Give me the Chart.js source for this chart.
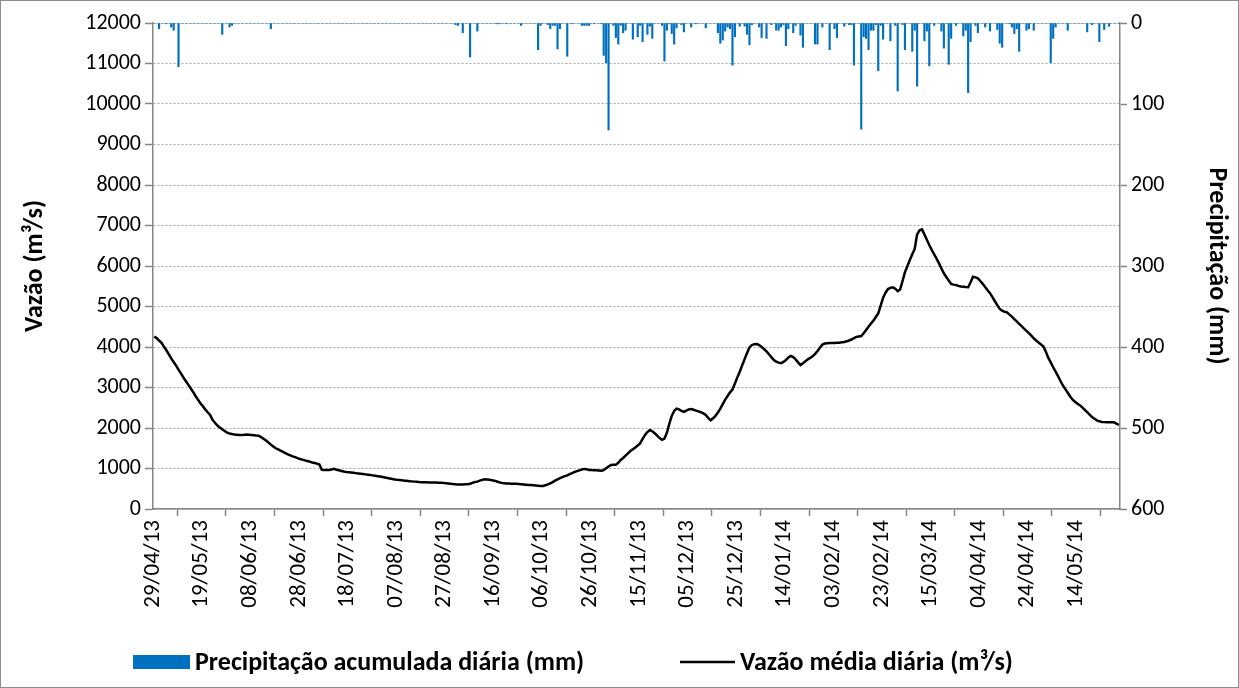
<!DOCTYPE html>
<html>
<head>
<meta charset="utf-8">
<title>Vazão média e precipitação diária</title>
<script src="https://cdn.jsdelivr.net/npm/chart.js"></script>
<style>
  body { margin: 0; background: #fff; }
  canvas { display: block; }
</style>
</head>
<body>
<canvas id="vazaoChart" width="1239" height="688"></canvas>
<script>
// tick labels on the date axis, one every 20 days starting 29/04/13
const xTickLabels = ['29/04/13', '19/05/13', '08/06/13', '28/06/13', '18/07/13', '07/08/13',
  '27/08/13', '16/09/13', '06/10/13', '26/10/13', '15/11/13', '05/12/13', '25/12/13',
  '14/01/14', '03/02/14', '23/02/14', '15/03/14', '04/04/14', '24/04/14', '14/05/14'];

// daily mean discharge (m³/s), 29/04/13 .. 31/05/14
const vazao = [
  4260, 4220, 4160, 4105, 4010, 3920, 3820, 3720, 3630, 3540,
  3440, 3350, 3250, 3160, 3070, 2980, 2890, 2790, 2700, 2610,
  2540, 2460, 2390, 2320, 2200, 2130, 2060, 2015, 1970, 1925,
  1885, 1865, 1850, 1840, 1835, 1830, 1828, 1832, 1838, 1835,
  1830, 1822, 1815, 1810, 1775, 1735, 1690, 1640, 1590, 1545,
  1500, 1470, 1440, 1410, 1380, 1350, 1325, 1300, 1280, 1255,
  1235, 1220, 1200, 1185, 1170, 1150, 1135, 1120, 1100, 965,
  960, 965, 965, 975, 990, 970, 955, 940, 925, 915,
  908, 900, 893, 886, 878, 870, 862, 855, 848, 840,
  830, 820, 810, 800, 790, 778, 766, 754, 742, 730,
  720, 715, 708, 700, 695, 688, 682, 676, 670, 665,
  662, 660, 658, 656, 655, 653, 652, 651, 650, 645,
  638, 630, 622, 615, 610, 608, 607, 608, 610, 612,
  625, 645, 665, 675, 700, 720, 733, 730, 720, 710,
  700, 680, 660, 645, 635, 630, 628, 626, 625, 622,
  618, 612, 606, 600, 595, 590, 585, 580, 575, 570,
  568, 585, 610, 635, 665, 700, 733, 760, 785, 810,
  832, 860, 888, 915, 935, 955, 975, 990, 980, 965,
  960, 958, 955, 950, 945, 960, 1005, 1050, 1085, 1092,
  1095, 1140, 1210, 1260, 1320, 1375, 1430, 1475, 1520, 1570,
  1620, 1730, 1830, 1900, 1950, 1920, 1870, 1810, 1750, 1710,
  1740, 1880, 2100, 2300, 2420, 2480, 2460, 2420, 2400, 2430,
  2460, 2470, 2450, 2430, 2410, 2390, 2360, 2320, 2250, 2190,
  2240, 2300, 2380, 2480, 2590, 2700, 2790, 2880, 2950, 3100,
  3250, 3390, 3550, 3700, 3850, 3990, 4050, 4070, 4075, 4050,
  4000, 3950, 3890, 3820, 3750, 3680, 3640, 3615, 3600, 3630,
  3680, 3740, 3780, 3750, 3695, 3620, 3555, 3600, 3650, 3695,
  3730, 3770, 3830, 3900, 3980, 4060, 4085, 4095, 4100, 4100,
  4100, 4102, 4105, 4115, 4125, 4140, 4160, 4185, 4220, 4250,
  4260, 4270, 4340, 4420, 4500, 4580, 4650, 4740, 4830, 5020,
  5220, 5340, 5430, 5460, 5475, 5440, 5380, 5420, 5630, 5850,
  6000, 6150, 6290, 6420, 6780, 6880, 6905, 6780, 6650, 6520,
  6400, 6290, 6180, 6065, 5940, 5820, 5730, 5640, 5555, 5540,
  5530, 5510, 5495, 5488, 5480, 5475, 5600, 5735, 5720, 5695,
  5630, 5560, 5480, 5400, 5330, 5230, 5130, 5035, 4940, 4900,
  4870, 4855, 4800, 4750, 4690, 4630, 4570, 4515, 4455, 4400,
  4340, 4280, 4215, 4160, 4110, 4060, 4010, 3880, 3730, 3620,
  3500, 3390, 3280, 3160, 3050, 2960, 2870, 2780, 2700, 2650,
  2600, 2560, 2510, 2450, 2390, 2330, 2270, 2230, 2190, 2165,
  2150, 2145, 2142, 2140, 2140, 2140, 2110, 2075
];

// daily accumulated rainfall (mm), same days
const precipitacao = [
  0, 0, 7, 0, 0, 1, 0, 5, 9, 0,
  54, 0, 0, 0, 0, 0, 0, 0, 0, 0,
  0, 0, 0, 0, 0, 0, 0, 0, 14, 0,
  0, 5, 3, 0, 0, 0, 0, 0, 0, 0,
  0, 0, 0, 0, 0, 0, 0, 0, 7, 0,
  0, 0, 0, 0, 0, 0, 0, 0, 0, 0,
  0, 0, 0, 0, 0, 0, 0, 0, 0, 0,
  0, 0, 0, 0, 0, 0, 0, 0, 0, 0,
  0, 0, 0, 0, 0, 0, 0, 0, 0, 0,
  0, 0, 0, 0, 0, 0, 0, 0, 0, 0,
  0, 0, 0, 0, 0, 0, 0, 0, 0, 0,
  0, 0, 0, 0, 0, 0, 0, 0, 0, 0,
  0, 0, 0, 0, 2, 3, 0, 12, 0, 0,
  42, 0, 0, 10, 0, 0, 0, 0, 0, 0,
  0, 1, 1, 0, 0, 1, 0, 0, 0, 0,
  0, 3, 0, 0, 0, 0, 0, 0, 33, 3,
  0, 0, 2, 7, 3, 3, 32, 7, 0, 0,
  41, 0, 1, 0, 0, 0, 3, 3, 3, 3,
  0, 1, 0, 0, 1, 40, 49, 132, 0, 3,
  18, 26, 3, 12, 9, 0, 0, 20, 0, 17,
  3, 23, 0, 14, 4, 19, 0, 0, 0, 3,
  47, 9, 1, 13, 26, 6, 0, 2, 11, 0,
  0, 5, 0, 1, 0, 0, 0, 6, 0, 0,
  0, 0, 12, 25, 21, 10, 5, 7, 52, 17,
  0, 4, 0, 4, 14, 27, 2, 0, 0, 5,
  18, 0, 19, 0, 2, 0, 9, 9, 5, 2,
  28, 7, 0, 12, 3, 0, 15, 30, 0, 0,
  0, 0, 26, 26, 0, 5, 0, 0, 33, 0,
  7, 18, 0, 0, 4, 0, 2, 2, 52, 0,
  0, 131, 17, 19, 33, 9, 9, 2, 59, 3,
  20, 0, 0, 22, 0, 3, 84, 0, 2, 33,
  0, 0, 35, 9, 78, 0, 0, 22, 10, 53,
  0, 3, 0, 0, 10, 31, 0, 51, 19, 0,
  3, 0, 0, 16, 9, 86, 23, 0, 3, 12,
  0, 0, 5, 0, 10, 0, 0, 8, 25, 30,
  0, 0, 1, 5, 13, 7, 35, 0, 0, 9,
  7, 0, 9, 0, 0, 0, 0, 0, 0, 49,
  19, 5, 0, 0, 0, 0, 9, 0, 0, 0,
  0, 0, 0, 0, 11, 0, 2, 0, 0, 23,
  0, 8, 0, 4, 0, 0, 0, 0
];

const FONT = "Carlito, Calibri, Lato, 'Open Sans', sans-serif";
const AXIS_GREY = '#868686';
const BLUE = '#0070c0';

// each day sits in the middle of its one-day slot on the date axis
const vazaoPts = vazao.map((v, i) => ({ x: i + 0.5, y: v }));
const chuvaPts = precipitacao.map((v, i) => ({ x: i + 0.5, y: v }));

// legend drawn under the axis, plus the thin frame around the chart
const legendBox = {
  id: 'legendBox',
  afterDraw(chart) {
    const ctx = chart.ctx;
    ctx.save();
    ctx.font = 'bold 26px ' + FONT;
    ctx.textBaseline = 'middle';
    ctx.fillStyle = BLUE;
    ctx.fillRect(133, 655, 57, 14);
    ctx.fillStyle = '#000';
    ctx.fillText(chart.data.datasets[1].label, 195, 663);
    ctx.strokeStyle = '#000';
    ctx.lineWidth = 2.5;
    ctx.beginPath();
    ctx.moveTo(680, 662);
    ctx.lineTo(735, 662);
    ctx.stroke();
    ctx.fillText(chart.data.datasets[0].label, 740, 663);
    ctx.strokeStyle = '#8c8c8c';
    ctx.lineWidth = 1;
    ctx.strokeRect(0.5, 0.5, chart.width - 1, chart.height - 1);
    ctx.restore();
  }
};

const ctx = document.getElementById('vazaoChart').getContext('2d');
const vazaoChart = new Chart(ctx, {
  data: {
    datasets: [{
      type: 'line',
      label: 'Vazão média diária (m³/s)',
      data: vazaoPts,
      yAxisID: 'y',
      borderColor: '#000',
      borderWidth: 2.5,
      pointRadius: 0,
      tension: 0,
      fill: false
    }, {
      type: 'bar',
      label: 'Precipitação acumulada diária (mm)',
      data: chuvaPts,
      yAxisID: 'y2',
      backgroundColor: BLUE,
      borderWidth: 0,
      barThickness: 1.5
    }]
  },
  options: {
    responsive: false,
    animation: false,
    layout: { padding: { top: 23, right: 0, bottom: 60, left: 0 } },
    plugins: {
      legend: { display: false },
      tooltip: { enabled: false }
    },
    scales: {
      x: {
        type: 'linear',
        position: 'bottom',
        offset: false,
        min: 0,
        max: vazao.length,
        afterFit: (s) => { s.height = 119; },
        ticks: {
          stepSize: 20,
          includeBounds: false,
          autoSkip: false,
          minRotation: 90,
          maxRotation: 90,
          padding: 4,
          color: '#000',
          font: { family: FONT, size: 23 },
          callback: (v) => xTickLabels[v / 20]
        },
        grid: { drawOnChartArea: false, tickLength: 7, tickColor: AXIS_GREY, tickWidth: 1.5 },
        border: { display: true, color: AXIS_GREY, width: 1.5 }
      },
      y: {
        position: 'left',
        min: 0,
        max: 12000,
        afterFit: (s) => { s.width = 153; },
        ticks: {
          stepSize: 1000,
          padding: 4,
          color: '#000',
          font: { family: FONT, size: 22 },
          callback: (v) => String(v)
        },
        grid: { color: '#a6a6a6', lineWidth: 1, tickLength: 8, tickColor: AXIS_GREY, tickWidth: 1.5 },
        border: { display: true, color: AXIS_GREY, width: 1.5, dash: [2, 2] },
        title: {
          display: true,
          text: 'Vazão (m³/s)',
          color: '#000',
          font: { family: FONT, size: 26, weight: 'bold' },
          padding: { top: 20, bottom: 0 }
        }
      },
      y2: {
        position: 'right',
        reverse: true,
        min: 0,
        max: 600,
        afterFit: (s) => { s.width = 119; },
        ticks: {
          stepSize: 100,
          padding: 4,
          color: '#000',
          font: { family: FONT, size: 22 },
          callback: (v) => String(v)
        },
        grid: { drawOnChartArea: false, tickLength: 7, tickColor: AXIS_GREY, tickWidth: 1.5 },
        border: { display: true, color: AXIS_GREY, width: 1.5 },
        title: {
          display: true,
          text: 'Precipitação (mm)',
          color: '#000',
          font: { family: FONT, size: 26, weight: 'bold' },
          padding: { top: 7, bottom: 0 }
        }
      }
    }
  },
  plugins: [legendBox]
});
</script>
</body>
</html>
